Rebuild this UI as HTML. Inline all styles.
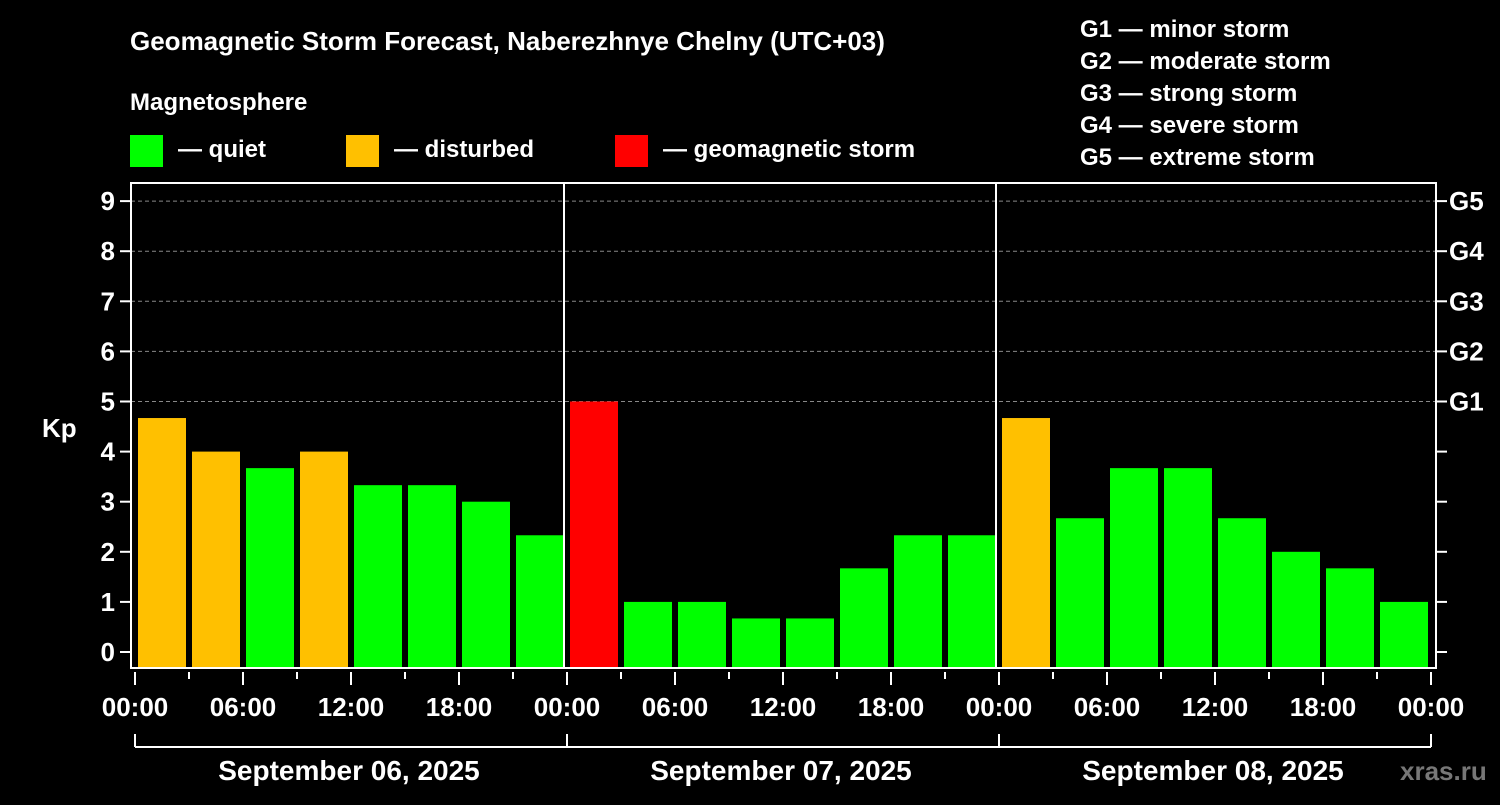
<!DOCTYPE html>
<html><head><meta charset="utf-8"><style>
body{margin:0;background:#000;width:1500px;height:800px;overflow:hidden}
svg text{font-family:"Liberation Sans",sans-serif;font-weight:bold;fill:#fff}
</style></head><body>
<svg id="c" width="1500" height="800">
<text x="130" y="50" font-size="26">Geomagnetic Storm Forecast, Naberezhnye Chelny (UTC+03)</text>
<text x="130" y="110" font-size="24">Magnetosphere</text>
<rect x="130" y="135" width="33" height="32" fill="#00ff00"/>
<text x="178" y="157" font-size="24">— quiet</text>
<rect x="346" y="135" width="33" height="32" fill="#ffc000"/>
<text x="394" y="157" font-size="24">— disturbed</text>
<rect x="615" y="135" width="33" height="32" fill="#ff0000"/>
<text x="663" y="157" font-size="24">— geomagnetic storm</text>
<g font-size="24">
<text x="1080" y="37">G1 — minor storm</text>
<text x="1080" y="69">G2 — moderate storm</text>
<text x="1080" y="101">G3 — strong storm</text>
<text x="1080" y="133">G4 — severe storm</text>
<text x="1080" y="165">G5 — extreme storm</text>
</g>
<text x="42" y="437" font-size="26">Kp</text>
<text x="1400" y="780" font-size="26" fill="#888" style="fill:#777">xras.ru</text>
<g id="plot"></g>
</svg>
<script>
const kpValues=[4.67,4,3.67,4,3.33,3.33,3,2.33, 5,1,1,0.67,0.67,1.67,2.33,2.33, 4.67,2.67,3.67,3.67,2.67,2,1.67,1];
const dayLabels=["September 06, 2025","September 07, 2025","September 08, 2025"];
const hourLabels=["00:00","06:00","12:00","18:00"];
const gLabels=["G1","G2","G3","G4","G5"];
const kpTicks=[0,1,2,3,4,5,6,7,8,9];
const NS="http://www.w3.org/2000/svg";
const g=document.getElementById('plot');
const X0=135,DAY=432,SLOT=54,PL=131,PR=1436,PT=183,PB=668;
const y=v=>652-v*50.1;
const x=i=>X0+i*SLOT;
function mk(t,a,txt){const e=document.createElementNS(NS,t);for(const k in a)e.setAttribute(k,a[k]);if(txt!==undefined)e.textContent=txt;g.appendChild(e);return e;}
// gridlines
for(const v of [5,6,7,8,9]){
const e=mk('line',{x1:PL,x2:PR,y1:y(v),y2:y(v),stroke:'#888','stroke-dasharray':'4,3','stroke-width':1});


}
// bars
kpValues.forEach((v,i)=>{
const col=v>=5?'#ff0000':(v>=4?'#ffc000':'#00ff00');
const e=mk('rect',{x:x(i)+3,y:y(v),width:48,height:PB-1-y(v),fill:col});


});
// axes frame
const fr=mk('rect',{x:PL,y:PT,width:PR-PL,height:PB-PT,fill:'none',stroke:'#fff','stroke-width':2});


for(let d=1;d<3;d++){
const e=mk('line',{x1:X0+d*DAY-3,x2:X0+d*DAY-3,y1:PT,y2:PB,stroke:'#fff','stroke-width':2});


}
// y ticks
kpTicks.forEach(v=>{
mk('line',{x1:PL-11,x2:PL,y1:y(v),y2:y(v),stroke:'#fff','stroke-width':2});
mk('line',{x1:PR,x2:PR+11,y1:y(v),y2:y(v),stroke:'#fff','stroke-width':2});
const t=mk('text',{x:PL-16,y:y(v)+9,'font-size':26,'text-anchor':'end'},v);


});
gLabels.forEach((l,i)=>{
const t=mk('text',{x:1449,y:y(5+i)+9,'font-size':26},l);


});
// x ticks
for(let i=0;i<=24;i++){
const major=i%2===0;
mk('line',{x1:x(i),x2:x(i),y1:PB+4,y2:PB+(major?17:11),stroke:'#fff','stroke-width':2});
if(major){
const t=mk('text',{x:x(i),y:716,'font-size':26,'text-anchor':'middle'},hourLabels[(i/2)%4]);


}
}
// day bracket
mk('line',{x1:X0,x2:X0+3*DAY,y1:747,y2:747,stroke:'#fff','stroke-width':2});
for(let d=0;d<=3;d++)mk('line',{x1:X0+d*DAY,x2:X0+d*DAY,y1:734,y2:747,stroke:'#fff','stroke-width':2});
dayLabels.forEach((l,d)=>{
const t=mk('text',{x:X0+d*DAY+DAY/2-2,y:780,'font-size':28,'text-anchor':'middle'},l);


});
</script>
</body></html>
